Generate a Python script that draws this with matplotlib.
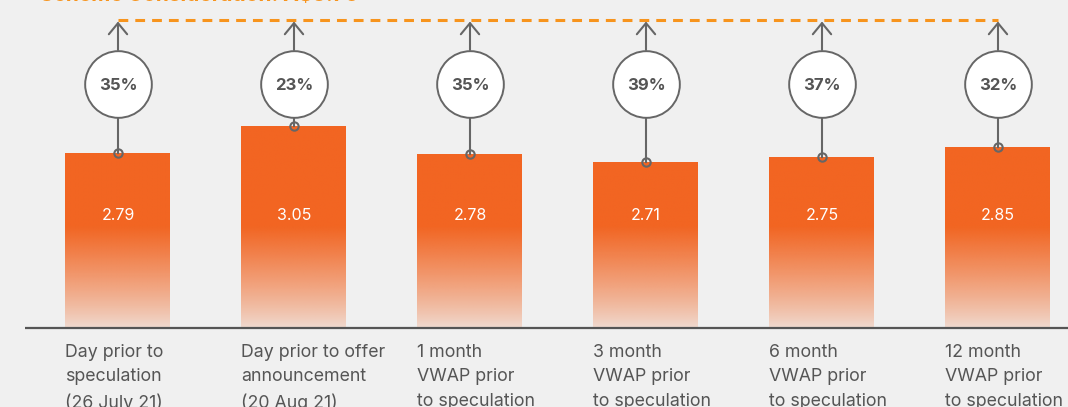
import numpy as np
import matplotlib.pyplot as plt
from matplotlib.colors import to_rgb

plt.rcParams['font.family'] = ['Inter', 'DejaVu Sans']

labels = ['Day prior to\nspeculation\n(26 July 21)',
          'Day prior to offer\nannouncement\n(20 Aug 21)',
          '1 month\nVWAP prior\nto speculation',
          '3 month\nVWAP prior\nto speculation',
          '6 month\nVWAP prior\nto speculation',
          '12 month\nVWAP prior\nto speculation']
prices = [2.79, 3.05, 2.78, 2.71, 2.75, 2.85]
premiums = ['35%', '23%', '35%', '39%', '37%', '32%']
title = 'Scheme Consideration: A\\$3.75'

bg = '#f0f0f0'
orange = '#f26522'
dash_orange = '#f7941d'
grey = '#666666'

# layout in data units (baseline value and scale chosen to match picture)
base = 1.11
ppu = 104.0  # pixels per data unit
W, H = 1068, 407
base_px = 328
circle_y = base + (base_px - 83.5) / ppu
circle_r = 33.5 / ppu
tip_y = base + (base_px - 20) / ppu
fade_top = base + (base_px - 227) / ppu
value_y = base + (base_px - 215) / ppu
bar_w = 105 / 176

fig = plt.figure(figsize=(W / 100, H / 100), dpi=100, facecolor=bg)
ax = fig.add_axes([0, 0, 1, 1])
ax.set_facecolor(bg)
ax.axis('off')

x = np.arange(len(prices))

# gradient bars
rgb = np.array(to_rgb(orange))
for xi, p in zip(x, prices):
    n = 200
    ys = np.linspace(base, p, n)
    t = np.clip((ys - base) / (fade_top - base), 0, 1)
    alpha = 0.15 + 0.85 * t ** 0.85
    img = np.zeros((n, 1, 4))
    img[:, 0, :3] = rgb
    img[:, 0, 3] = alpha
    bar = ax.bar(xi, p - base, bottom=base, width=bar_w, color='none', zorder=2)[0]
    im = ax.imshow(img, extent=[xi - bar_w / 2, xi + bar_w / 2, base, p],
                   origin='lower', aspect='auto', zorder=2, interpolation='bilinear')
    im.set_clip_path(bar)
    ax.text(xi, value_y, f'{p:.2f}', color='white', fontsize=11.5,
            ha='center', va='center', zorder=4)

ax.set_xlim(-118 / 176, 5 + 70 / 176)
ax.set_ylim(base - (H - base_px) / ppu, base + base_px / ppu)

# baseline
ax.plot([(25 - 118) / 176, 5 + 70 / 176], [base, base], color='#555555', lw=1.6, zorder=3,
        solid_capstyle='butt')

# connectors, circles, arrows
for xi, p, pct in zip(x, prices, premiums):
    ax.plot([xi, xi], [p, circle_y - circle_r], color=grey, lw=1.5, zorder=3)
    ax.plot(xi, p, 'o', ms=6, mfc='none', mec=grey, mew=1.5, zorder=4)
    ax.plot(xi, circle_y, 'o', ms=48, mfc='white', mec=grey, mew=1.4, zorder=4)
    ax.text(xi, circle_y - 2.5 / ppu, pct, fontsize=12, fontweight='bold', color='#555555',
            ha='center', va='center', zorder=5)
    ax.annotate('', xy=(xi, tip_y - 1.5 / ppu), xytext=(xi, circle_y + circle_r),
                arrowprops=dict(arrowstyle='->,head_length=0.4,head_width=0.33',
                                color=grey, lw=1.5, mutation_scale=20,
                                shrinkA=0, shrinkB=0), zorder=3)
    ax.text(xi - bar_w / 2, base - 16 / ppu, labels[xi], fontsize=12.8, color='#555555',
            ha='left', va='top', linespacing=1.56)

ax.plot([x[0], x[-1]], [tip_y, tip_y], color=dash_orange, lw=2.2,
        dashes=(3.2, 2.3), zorder=3)

fig.text(40 / W, 1 - 1 / H, title, color=dash_orange, fontsize=15,
         fontweight='bold', ha='left', va='baseline')

fig.savefig('out.png', dpi=100, facecolor=bg)
